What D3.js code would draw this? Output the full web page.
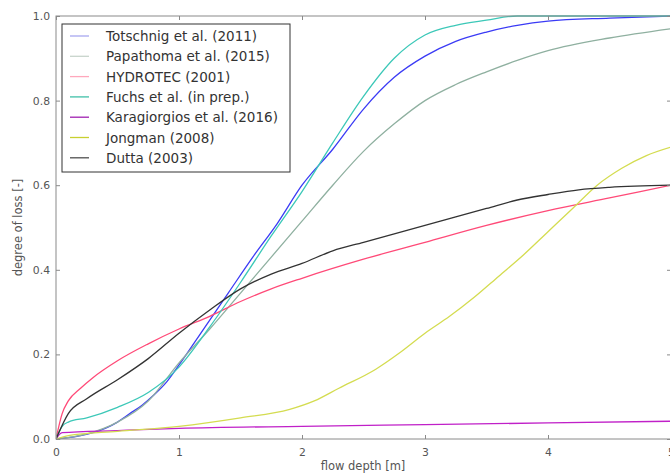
<!DOCTYPE html>
<html><head><meta charset="utf-8">
<script src="https://cdn.jsdelivr.net/npm/d3@7"></script>
<style>body{margin:0;background:#fff}svg{display:block}</style>
</head><body>
<svg id="chart" width="670" height="475"></svg>
<script>
const seriesNames = ["Totschnig et al. (2011)","Papathoma et al. (2015)","HYDROTEC (2001)","Fuchs et al. (in prep.)","Karagiorgios et al. (2016)","Jongman (2008)","Dutta (2003)"];
const seriesColors = ["#3b3bf5","#8fb0a0","#ff4a78","#3cc8b8","#c020c8","#d4dc50","#333333"];
const legendColors = ["#a8a8f0","#c8d4cc","#ffa8bc","#40c0a8","#a020b0","#c8d030","#505050"];

const totschnigX = [0,0.1,0.2,0.3,0.4,0.5,0.6,0.7,0.8,0.9,1.0,1.2,1.4,1.6,1.8,2.0,2.25,2.5,2.75,3.0,3.25,3.5,3.75,4.0,4.5,5.0];
const totschnigY = [0,0.003,0.008,0.015,0.025,0.04,0.06,0.08,0.105,0.135,0.175,0.26,0.345,0.43,0.51,0.6,0.685,0.78,0.855,0.905,0.94,0.962,0.978,0.988,0.995,1.0];
const papathomaX = [0,0.25,0.5,0.75,1.0,1.25,1.5,1.75,2.0,2.25,2.5,2.75,3.0,3.25,3.5,3.75,4.0,4.5,5.0];
const papathomaY = [0,0.012,0.04,0.09,0.18,0.26,0.345,0.43,0.515,0.6,0.68,0.745,0.80,0.838,0.868,0.895,0.918,0.948,0.97];
const hydrotecX = [0,0.05,0.1,0.2,0.3,0.5,0.75,1.0,1.25,1.5,1.75,2.0,2.5,3.0,3.5,4.0,4.5,5.0];
const hydrotecY = [0,0.06,0.09,0.12,0.145,0.185,0.225,0.26,0.29,0.325,0.355,0.38,0.425,0.465,0.505,0.54,0.57,0.60];
const fuchsX = [0,0.05,0.1,0.25,0.5,0.75,1.0,1.25,1.5,1.75,2.0,2.25,2.5,2.75,3.0,3.25,3.5,3.75,5.0];
const fuchsY = [0,0.03,0.04,0.05,0.075,0.11,0.17,0.265,0.37,0.48,0.585,0.70,0.81,0.9,0.955,0.978,0.99,1.0,1.0];
const karagiorgiosX = [0,0.05,0.5,1,2,3,4,5];
const karagiorgiosY = [0,0.015,0.02,0.025,0.03,0.034,0.038,0.042];
const jongmanX = [0,0.1,0.5,1.0,1.5,1.9,2.1,2.3,2.6,2.8,3.0,3.2,3.4,3.6,3.8,4.0,4.2,4.4,4.6,4.8,5.0];
const jongmanY = [0,0.008,0.018,0.03,0.05,0.07,0.09,0.12,0.165,0.205,0.25,0.29,0.335,0.385,0.435,0.49,0.545,0.6,0.64,0.67,0.69];
const duttaX = [0,0.1,0.25,0.5,0.75,1.0,1.25,1.5,1.75,2.0,2.25,2.5,2.75,3.0,3.25,3.5,3.75,4.0,4.25,4.5,5.0];
const duttaY = [0,0.06,0.095,0.14,0.19,0.25,0.305,0.355,0.39,0.415,0.445,0.465,0.485,0.505,0.525,0.545,0.565,0.578,0.589,0.595,0.60];

const xTicks = [0,1,2,3,4,5];
const yTicks = [0,0.2,0.4,0.6,0.8,1.0];

const seriesX = [totschnigX,papathomaX,hydrotecX,fuchsX,karagiorgiosX,jongmanX,duttaX];
const seriesY = [totschnigY,papathomaY,hydrotecY,fuchsY,karagiorgiosY,jongmanY,duttaY];

(function(){
const svg = d3.select("#chart");
const pL = 56, pR = 671, pT = 16, pB = 439;
const x = d3.scaleLinear().domain([0,5]).range([pL,pR]);
const y = d3.scaleLinear().domain([0,1]).range([pB,pT]);

svg.append("defs").append("clipPath").attr("id","clip")
  .append("rect").attr("x",pL).attr("y",pT-1).attr("width",pR-pL).attr("height",pB-pT+2);

const line = d3.line().x(d=>x(d[0])).y(d=>y(d[1])).curve(d3.curveMonotoneX);
const g = svg.append("g").attr("clip-path","url(#clip)");
seriesNames.forEach((n,i)=>{
  const pts = seriesX[i].map((v,j)=>[v,seriesY[i][j]]);
  g.append("path").attr("d",line(pts)).attr("fill","none")
   .attr("stroke",seriesColors[i]).attr("stroke-width",1.3);
});

const frameColor = "#8a8a8a";
svg.append("rect").attr("x",pL).attr("y",pT).attr("width",pR-pL).attr("height",pB-pT)
  .attr("fill","none").attr("stroke",frameColor).attr("stroke-width",1);

const xAxis = d3.axisBottom(x).tickValues(xTicks).tickFormat(d3.format("d")).tickSizeInner(-4).tickSizeOuter(0).tickPadding(9);
const xa = svg.append("g").attr("transform",`translate(0,${pB})`).call(xAxis);
const xTop = d3.axisTop(x).tickValues(xTicks).tickFormat("").tickSizeInner(-4).tickSizeOuter(0);
const xt = svg.append("g").attr("transform",`translate(0,${pT})`).call(xTop);
const yAxis = d3.axisLeft(y).tickValues(yTicks).tickFormat(d3.format(".1f")).tickSizeInner(-4).tickSizeOuter(0).tickPadding(6);
const ya = svg.append("g").attr("transform",`translate(${pL},0)`).call(yAxis);
const yRight = d3.axisRight(y).tickValues(yTicks).tickFormat("").tickSizeInner(-4).tickSizeOuter(0);
const yr = svg.append("g").attr("transform",`translate(${pR},0)`).call(yRight);
[xa,xt,ya,yr].forEach(a=>{
  a.select(".domain").remove();
  a.selectAll("line").attr("stroke",frameColor);
  a.selectAll("text").attr("font-family","DejaVu Sans").attr("font-size",10.8).attr("fill","#555");
});

svg.append("text").attr("x",363).attr("y",470).attr("text-anchor","middle")
  .attr("font-family","DejaVu Sans").attr("font-size",11.5).attr("fill","#555").text("flow depth [m]");
svg.append("text").attr("transform",`translate(22,${(pT+pB)/2}) rotate(-90)`).attr("text-anchor","middle")
  .attr("font-family","DejaVu Sans").attr("font-size",11.5).attr("fill","#555").text("degree of loss [-]");

const lg = svg.append("g");
lg.append("rect").attr("x",62).attr("y",24).attr("width",228).attr("height",148)
  .attr("fill","#fff").attr("stroke","#333").attr("stroke-width",1);
seriesNames.forEach((n,i)=>{
  const yy = 36 + i*20.3;
  lg.append("line").attr("x1",70).attr("x2",89).attr("y1",yy).attr("y2",yy)
    .attr("stroke",legendColors[i]).attr("stroke-width",1.3);
  lg.append("text").attr("x",106).attr("y",yy+5).attr("font-family","DejaVu Sans")
    .attr("font-size",13.5).attr("fill","#333").text(n);
});
})();
</script>
</body></html>
